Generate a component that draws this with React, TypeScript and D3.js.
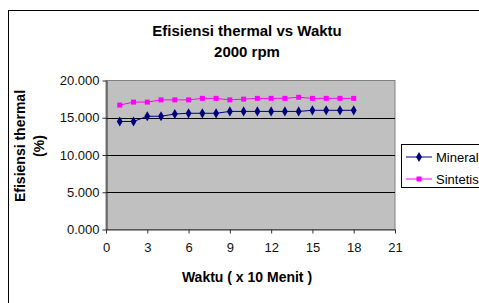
import React, { useEffect, useRef } from "react";
import * as d3 from "d3";

const waktu = [1, 2, 3, 4, 5, 6, 7, 8, 9, 10, 11, 12, 13, 14, 15, 16, 17, 18];
const mineral = [14.5, 14.5, 15.2, 15.2, 15.5, 15.6, 15.6, 15.6, 15.85, 15.85, 15.85, 15.85, 15.85, 15.85, 16.0, 16.0, 16.0, 16.0];
const sintetis = [16.7, 17.1, 17.1, 17.4, 17.4, 17.4, 17.6, 17.6, 17.4, 17.5, 17.6, 17.6, 17.6, 17.75, 17.6, 17.6, 17.6, 17.6];
const xTicks = [0, 3, 6, 9, 12, 15, 18, 21];
const yTicks = [0, 5, 10, 15, 20];
const seriesNames = ["Mineral", "Sintetis"];

const App = () => {
  const chartEl = useRef<SVGSVGElement | null>(null);

  useEffect(() => {
    const svg = d3.select(chartEl.current);
    svg.selectAll("*").remove();
    const font = "Arial, 'Liberation Sans', sans-serif";

    // chart frame
    svg.append("rect")
      .attr("x", 8.5).attr("y", 10.5)
      .attr("width", 500).attr("height", 320)
      .attr("fill", "white").attr("stroke", "black");

    const left = 106, right = 395, top = 80.5, bottom = 229.5;
    const x = d3.scaleLinear().domain([0, 21]).range([left, right]);
    const y = d3.scaleLinear().domain([0, 20]).range([bottom, top]);

    svg.append("rect")
      .attr("x", left).attr("y", top)
      .attr("width", right - left).attr("height", bottom - top)
      .attr("fill", "#c0c0c0").attr("stroke", "#808080");

    // gridlines
    svg.append("g").selectAll("line")
      .data(yTicks.filter((d) => d > 0 && d < 20))
      .enter().append("line")
      .attr("x1", left).attr("x2", right)
      .attr("y1", (d) => Math.round(y(d)) + 0.5).attr("y2", (d) => Math.round(y(d)) + 0.5)
      .attr("stroke", "black");

    const yAxis = svg.append("g")
      .attr("transform", `translate(${left + 0.5},0)`)
      .call(d3.axisLeft(y).tickValues(yTicks).tickSize(4).tickSizeOuter(0).tickPadding(3).tickFormat(d3.format(".3f")));
    const xAxis = svg.append("g")
      .attr("transform", `translate(0,${bottom})`)
      .call(d3.axisBottom(x).tickValues(xTicks).tickSize(4).tickSizeOuter(0).tickPadding(9));
    [yAxis, xAxis].forEach((a) => {
      a.select(".domain").attr("stroke", "#333");
      a.selectAll("line").attr("stroke", "#333");
      a.selectAll("text").attr("font-family", font).attr("font-size", 13).attr("fill", "#111");
    });

    const series = [
      { name: seriesNames[0], values: mineral, color: "#000080", shape: d3.symbolDiamond, size: 30 },
      { name: seriesNames[1], values: sintetis, color: "#ff00ff", shape: d3.symbolSquare, size: 25 },
    ];

    const line = d3.line<number>().x((d, i) => x(waktu[i])).y((d) => y(d));

    series.forEach((s) => {
      svg.append("path").datum(s.values)
        .attr("d", line).attr("fill", "none")
        .attr("stroke", s.color).attr("stroke-width", 1);
      svg.append("g").selectAll("path")
        .data(s.values).enter().append("path")
        .attr("d", d3.symbol().type(s.shape).size(s.size)())
        .attr("transform", (d, i) => `translate(${x(waktu[i])},${y(d)})`)
        .attr("fill", s.color);
    });

    // titles
    const title = svg.append("text")
      .attr("x", 247).attr("text-anchor", "middle")
      .attr("font-family", font).attr("font-weight", "bold").attr("font-size", 15);
    title.append("tspan").attr("x", 247).attr("y", 36).text("Efisiensi thermal vs Waktu");
    title.append("tspan").attr("x", 247).attr("y", 57).text("2000 rpm");

    svg.append("text")
      .attr("x", 247).attr("y", 282).attr("text-anchor", "middle")
      .attr("font-family", font).attr("font-weight", "bold").attr("font-size", 14)
      .text("Waktu ( x 10 Menit )");

    const yt = svg.append("text")
      .attr("transform", "translate(25,146) rotate(-90)")
      .attr("text-anchor", "middle")
      .attr("font-family", font).attr("font-weight", "bold").attr("font-size", 14);
    yt.append("tspan").attr("x", 0).attr("y", 0).text("Efisiensi thermal");
    yt.append("tspan").attr("x", 0).attr("y", 19).text("(%)");

    // legend
    svg.append("rect")
      .attr("x", 401.5).attr("y", 144.5)
      .attr("width", 100).attr("height", 43)
      .attr("fill", "white").attr("stroke", "black");
    series.forEach((s, i) => {
      const ly = 157 + i * 22;
      svg.append("line")
        .attr("x1", 406).attr("x2", 432).attr("y1", ly).attr("y2", ly)
        .attr("stroke", s.color);
      svg.append("path")
        .attr("d", d3.symbol().type(s.shape).size(s.size)())
        .attr("transform", `translate(419,${ly})`)
        .attr("fill", s.color);
      svg.append("text")
        .attr("x", 436).attr("y", ly + 4.5)
        .attr("font-family", font).attr("font-size", 13)
        .text(s.name);
    });
  }, [chartEl]);

  return (
    <svg
      ref={chartEl}
      width={479}
      height={303}
      style={{ position: "absolute", left: 0, top: 0 }}
    ></svg>
  );
};

export default App;
